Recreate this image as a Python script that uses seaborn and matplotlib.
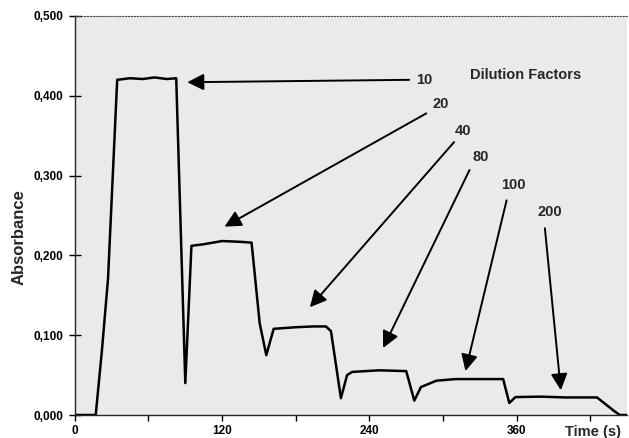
import matplotlib
matplotlib.use('Agg')
import matplotlib.pyplot as plt
import seaborn as sns
from matplotlib.ticker import MultipleLocator, FuncFormatter

# ====== data ======
time_s = [0, 17, 22, 27, 34.5, 45, 55, 65, 75, 82.6, 90, 95, 105, 120, 135, 144,
          150.6, 156, 162, 180, 195, 204.6, 208.7, 216.8, 221.8, 226, 248, 270,
          276.6, 282, 294.6, 310, 330, 349, 354, 359, 380, 400, 425.5, 438.6, 444, 450]
absorbance = [0, 0, 0.08, 0.17, 0.420, 0.422, 0.421, 0.423, 0.421, 0.422, 0.040, 0.212,
              0.214, 0.218, 0.217, 0.216, 0.115, 0.075, 0.108, 0.110, 0.111, 0.111,
              0.105, 0.021, 0.050, 0.054, 0.056, 0.055, 0.018, 0.035, 0.043, 0.045,
              0.045, 0.045, 0.015, 0.0225, 0.023, 0.022, 0.022, 0.006, 0, 0]

# dilution factor labels, arrow tails/tips (time, absorbance)
factors = ['10', '20', '40', '80', '100', '200']
label_pos = [(285, 0.420), (298, 0.390), (316, 0.356), (331, 0.323), (357, 0.288), (387, 0.254)]
arrow_tail = [(272.5, 0.420), (286.4, 0.378), (309, 0.342), (321.6, 0.307), (351.8, 0.269), (383, 0.234)]
arrow_tip = [(91.6, 0.417), (121.9, 0.236), (191.5, 0.135), (251.2, 0.084), (318.3, 0.055), (396, 0.031)]

# ====== style ======
sns.set_style('ticks')
plt.rcParams['font.family'] = ['Liberation Sans', 'DejaVu Sans']
plt.rcParams['font.weight'] = 'bold'

fig = plt.figure(figsize=(6.29, 4.38), dpi=100)
ax = fig.add_axes([0.119, 0.0525, 0.878, 0.911])
ax.set_facecolor('#eaeaea')

sns.lineplot(x=time_s, y=absorbance, color='black', linewidth=1.8,
             estimator=None, sort=False, ax=ax)

for lab, (lx, ly), tail, tip in zip(factors, label_pos, arrow_tail, arrow_tip):
    ax.annotate('', xy=tip, xytext=tail,
                arrowprops=dict(arrowstyle='-|>,head_length=1.0,head_width=0.5',
                                lw=1.4, color='black', shrinkA=0, shrinkB=0))
    ax.text(lx, ly, lab, fontsize=10.5, fontweight='bold', ha='center', va='center')

ax.text(367, 0.426, 'Dilution Factors', fontsize=10.5, fontweight='bold',
        ha='center', va='center')

ax.set_xlim(0, 450)
ax.set_ylim(0, 0.5)
ax.xaxis.set_major_locator(MultipleLocator(60))
ax.xaxis.set_major_formatter(FuncFormatter(lambda v, p: f"{int(v)}" if v % 120 == 0 else ''))
ax.yaxis.set_major_locator(MultipleLocator(0.1))
ax.yaxis.set_major_formatter(FuncFormatter(lambda v, p: f"{v:.3f}".replace('.', ',')))
ax.tick_params(axis='x', direction='out', length=4, width=1, pad=3.5, labelsize=8.5, colors='black')
ax.tick_params(axis='y', direction='inout', length=8, width=1, pad=4, labelsize=8.5, colors='black')
for t in ax.get_xticklabels() + ax.get_yticklabels():
    t.set_fontweight('bold')

ax.set_xlabel('')
ax.set_ylabel('Absorbance', fontsize=12, fontweight='bold')
ax.yaxis.set_label_coords(-0.088, 0.446)
ax.text(0.938, -0.043, 'Time (s)', transform=ax.transAxes, fontsize=10.5,
        fontweight='bold', ha='center', va='center')

ax.spines['right'].set_visible(False)
ax.spines['top'].set_linestyle(':')
ax.spines['top'].set_color('#444444')
ax.spines['left'].set_linewidth(1.0)
ax.spines['bottom'].set_linewidth(1.0)

plt.savefig('out.png', dpi=100)
